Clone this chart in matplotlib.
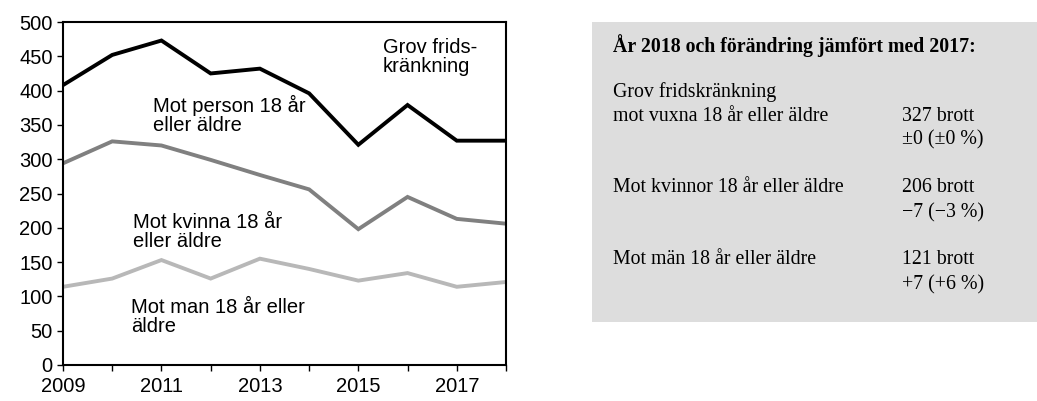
import matplotlib.pyplot as plt
from matplotlib.patches import Rectangle

plt.rcParams['font.family'] = ['Liberation Sans', 'DejaVu Sans']

# data
years = [2009, 2010, 2011, 2012, 2013, 2014, 2015, 2016, 2017, 2018]
total = [408, 452, 473, 425, 432, 396, 321, 379, 327, 327]
women = [294, 326, 320, 299, 277, 256, 198, 245, 213, 206]
men = [114, 126, 153, 126, 155, 140, 123, 134, 114, 121]
year_labels = ['2009', '', '2011', '', '2013', '', '2015', '', '2017', '']

fig = plt.figure(figsize=(10.37, 4.01), dpi=100)
ax = fig.add_axes([63 / 1037, 1 - 365 / 401, (506 - 63) / 1037, (365 - 22) / 401])

ax.plot(years, women, color='#808080', linewidth=2.8, solid_joinstyle='miter')
ax.plot(years, men, color='#b8b8b8', linewidth=2.8, solid_joinstyle='miter')
ax.plot(years, total, color='black', linewidth=2.8, solid_joinstyle='miter')

ax.set_xlim(2009, 2018)
ax.set_ylim(0, 500)
ax.set_yticks(range(0, 501, 50))
ax.set_xticks(years)
ax.set_xticklabels(year_labels)
ax.tick_params(axis='both', labelsize=14.5, length=4.5, width=1, direction='out')
ax.tick_params(axis='x', pad=4)
ax.tick_params(axis='y', pad=3)
for s in ax.spines.values():
    s.set_linewidth(1.5)

# series labels
fs = 14.5
ax.text(2015.5, 477, 'Grov frids-\nkränkning', fontsize=fs, va='top', linespacing=1.0)
ax.text(2010.83, 394, 'Mot person 18 år\neller äldre', fontsize=fs, va='top', linespacing=1.0)
ax.text(2010.42, 221, 'Mot kvinna 18 år\neller äldre', fontsize=fs, va='top', linespacing=1.0)
ax.text(2010.38, 98, 'Mot man 18 år eller\näldre', fontsize=fs, va='top', linespacing=1.0)

# info panel on the right
W, H = 1037, 401
fig.patches.append(Rectangle((592 / W, 1 - 322 / H), (1037 - 592) / W, 300 / H,
                             transform=fig.transFigure, facecolor='#dddddd',
                             edgecolor='none', zorder=0))

serif = ['Liberation Serif', 'DejaVu Serif']
tx, vx = 613 / W, 902 / W
fig.text(tx, 1 - 46 / H, 'År 2018 och förändring jämfört med 2017:', family=serif,
         fontsize=14.3, fontweight='bold', va='center')
rows = [
    (92, 'Grov fridskränkning', ''),
    (117, 'mot vuxna 18 år eller äldre', '327 brott'),
    (140, '', '±0 (±0 %)'),
    (188, 'Mot kvinnor 18 år eller äldre', '206 brott'),
    (213, '', '−7 (−3 %)'),
    (260, 'Mot män 18 år eller äldre', '121 brott'),
    (285, '', '+7 (+6 %)'),
]
for y, left, right in rows:
    if left:
        fig.text(tx, 1 - y / H, left, family=serif, fontsize=14.3, va='center')
    if right:
        fig.text(vx, 1 - y / H, right, family=serif, fontsize=14.3, va='center')

fig.savefig('out.png', dpi=100)
